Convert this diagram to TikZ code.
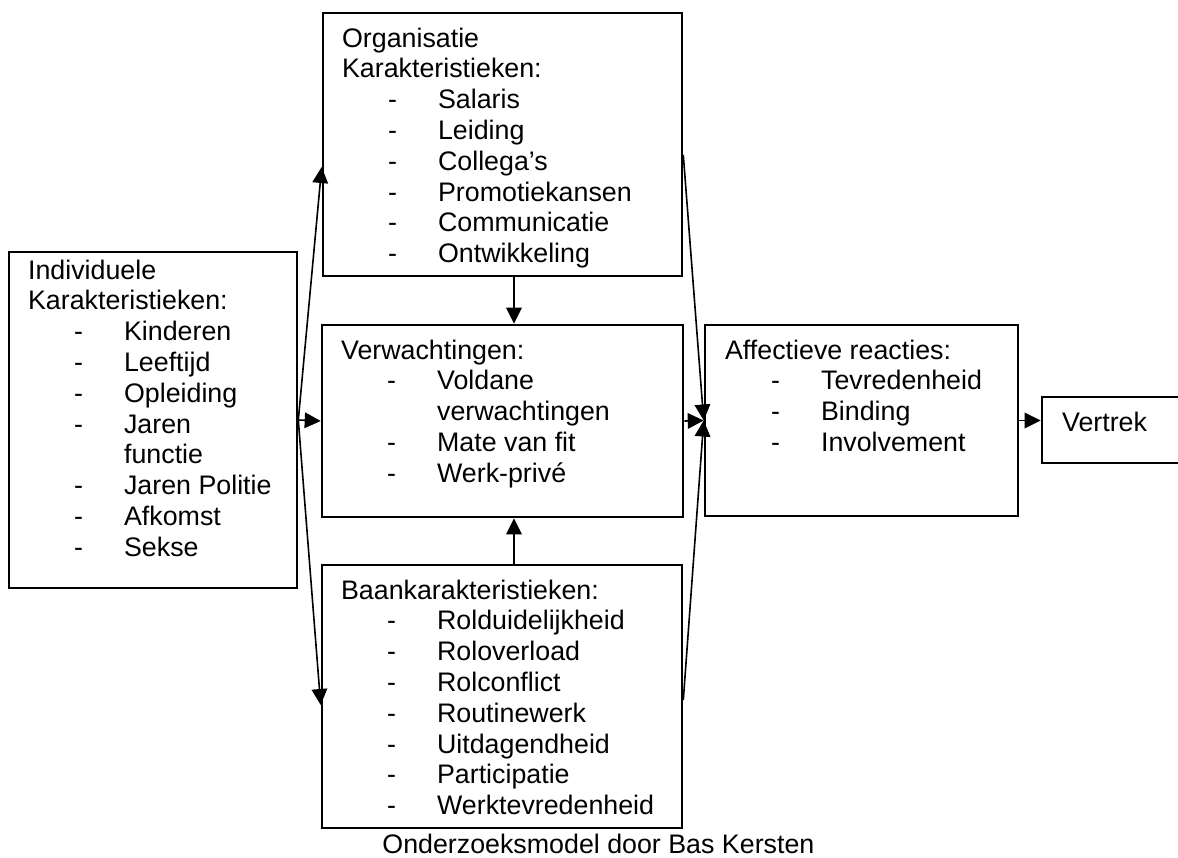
\documentclass[tikz,border=0pt]{standalone}
\usepackage{fontspec}
\setmainfont{Liberation Sans}
\usetikzlibrary{arrows.meta, positioning, fit}

\newcommand{\dashitem}[1]{\hspace*{23pt}\makebox[25pt][l]{-}#1}
\newcommand{\wrapitem}[1]{\hspace*{48pt}#1}

\begin{document}
\begin{tikzpicture}[
  x=0.5pt, y=-0.5pt,
  >={Triangle[length=8pt,width=7.8pt]},
  box/.style={draw, line width=1.3pt, inner sep=0pt},
  boxtext/.style={anchor=north west, inner sep=0pt, align=left, font=\fontsize{13.4}{15.4}\selectfont},
  conn/.style={->, line width=0.8pt}
  ]
  \clip (0,0) rectangle (1178,857);
  % the boxes
  \node[box, fit={(323,13) (682,276)}] (org) {};
  \node[box, fit={(9,252) (297,588)}] (ind) {};
  \node[box, fit={(322,325) (683,517)}] (verw) {};
  \node[box, fit={(322,565) (682,828)}] (baan) {};
  \node[box, fit={(705,325) (1018,516)}] (affect) {};
  \node[box, fit={(1042,397) (1195,463)}] (vertrek) {};
  % texts
  \node[boxtext] (orgtxt) at ([xshift=10pt, yshift=-7.8pt]org.north west)
    {Organisatie\\Karakteristieken:\\\dashitem{Salaris}\\\dashitem{Leiding}\\\dashitem{Collega’s}\\
     \dashitem{Promotiekansen}\\\dashitem{Communicatie}\\\dashitem{Ontwikkeling}};
  \node[boxtext] (indtxt) at ([xshift=10pt, yshift=-4.3pt]ind.north west)
    {Individuele\\Karakteristieken:\\\dashitem{Kinderen}\\\dashitem{Leeftijd}\\\dashitem{Opleiding}\\
     \dashitem{Jaren}\\\wrapitem{functie}\\\dashitem{Jaren Politie}\\\dashitem{Afkomst}\\\dashitem{Sekse}};
  \node[boxtext] (verwtxt) at ([xshift=10pt, yshift=-7.8pt]verw.north west)
    {Verwachtingen:\\\dashitem{Voldane}\\\wrapitem{verwachtingen}\\\dashitem{Mate van fit}\\\dashitem{Werk-privé}};
  \node[boxtext] (baantxt) at ([xshift=10pt, yshift=-7.8pt]baan.north west)
    {Baankarakteristieken:\\\dashitem{Rolduidelijkheid}\\\dashitem{Roloverload}\\\dashitem{Rolconflict}\\
     \dashitem{Routinewerk}\\\dashitem{Uitdagendheid}\\\dashitem{Participatie}\\\dashitem{Werktevredenheid}};
  \node[boxtext] (affecttxt) at ([xshift=10.5pt, yshift=-7.8pt]affect.north west)
    {Affectieve reacties:\\\dashitem{Tevredenheid}\\\dashitem{Binding}\\\dashitem{Involvement}};
  \node[boxtext] (vertrektxt) at ([xshift=10.5pt, yshift=-7.8pt]vertrek.north west) {Vertrek};
  \node[boxtext, anchor=base west] (caption) at (382,853) {Onderzoeksmodel door Bas Kersten};
  % arrows
  \draw[conn] (ind.east) -- (org.west |- 0,167);
  \draw[conn] (ind.east) -- (verw.west);
  \draw[conn] (ind.east) -- (baan.west |- 0,705);
  \draw[conn] (org.south -| 514,0) -- (verw.north -| 514,0);
  \draw[conn] (baan.north -| 514,0) -- (verw.south -| 514,0);
  \draw[conn] (verw.east) -- (affect.west);
  \draw[conn] (org.east |- 0,155) -- (affect.west);
  \draw[conn] (baan.east |- 0,700) -- (affect.west);
  \draw[conn] (affect.east) -- (affect.east -| vertrek.west);
\end{tikzpicture}
\end{document}
